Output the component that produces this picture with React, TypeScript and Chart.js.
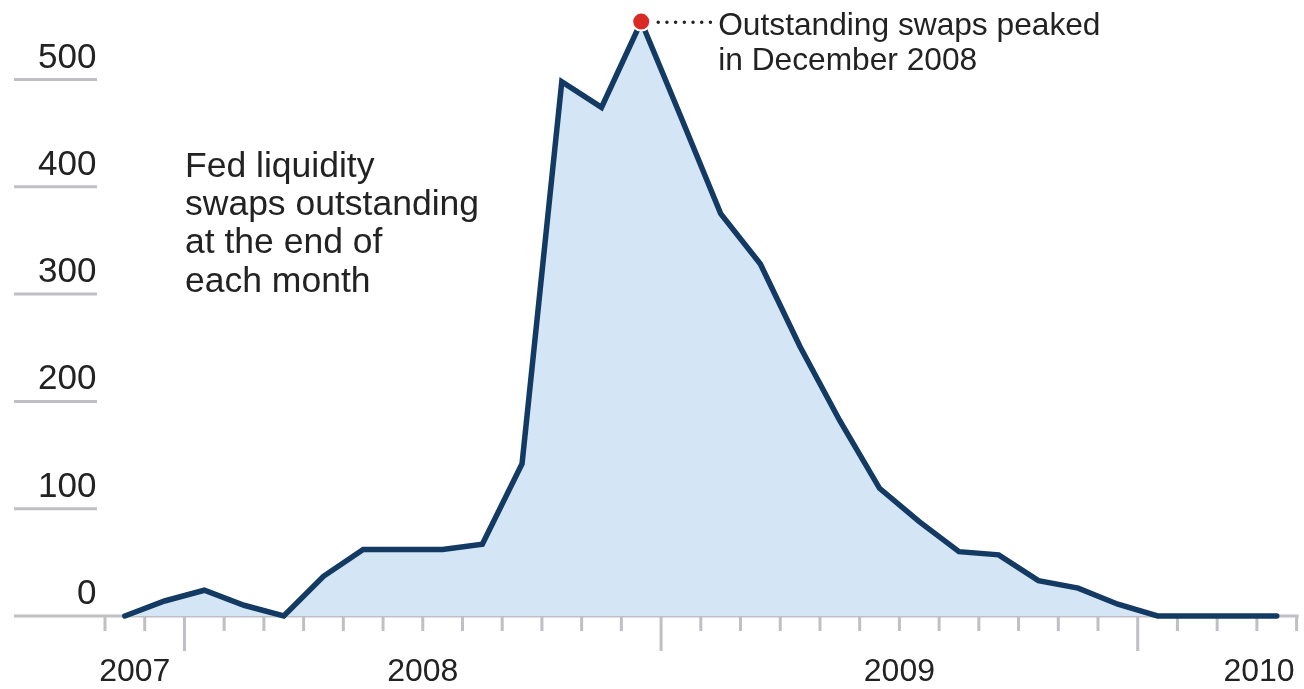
import { useEffect, useRef } from 'react';
import { Chart, registerables } from 'chart.js';

Chart.register(...registerables);

// Month-end observations, Nov 2007 .. Apr 2010 (billions of dollars)
const MONTHS = [
  '2007-11', '2007-12',
  '2008-01', '2008-02', '2008-03', '2008-04', '2008-05', '2008-06',
  '2008-07', '2008-08', '2008-09', '2008-10', '2008-11', '2008-12',
  '2009-01', '2009-02', '2009-03', '2009-04', '2009-05', '2009-06',
  '2009-07', '2009-08', '2009-09', '2009-10', '2009-11', '2009-12',
  '2010-01', '2010-02', '2010-03', '2010-04',
];
const SWAPS = [
  0, 14,
  24, 10, 0, 37, 62, 62, 62, 67, 142, 498, 474, 554,
  465, 375, 328, 251, 182, 119, 88, 60, 57, 33, 26, 11,
  0, 0, 0, 0,
];
const Y_TICKS = [0, 100, 200, 300, 400, 500];
const YEAR_LABELS = ['2007', '2008', '2009', '2010'];
const YEAR_CENTERS = [0.75, 8, 20, 30]; // in month-index units
const YEAR_STARTS = [2, 14, 26]; // January boundaries (month index)
const NOTE_LINES = ['Fed liquidity', 'swaps outstanding', 'at the end of', 'each month'];
const PEAK_LINES = ['Outstanding swaps peaked', 'in December 2008'];

const NAVY = '#133a63';
const FILL = '#d4e5f5';
const GRID = '#bfbfc4';
const RED = '#d92a26';
const TEXT = '#222222';
const FONT = '"Liberation Sans", Arial, Helvetica, sans-serif';

const PEAK_INDEX = SWAPS.indexOf(Math.max(...SWAPS));

const decor = {
  id: 'decor',
  beforeDatasetsDraw(chart: any) {
    const { ctx } = chart;
    const xs = chart.scales.x;
    const ys = chart.scales.y;
    const y0 = ys.getPixelForValue(0);
    ctx.save();
    ctx.strokeStyle = GRID;
    ctx.lineWidth = 3;
    ctx.lineCap = 'butt';
    // short y gridlines
    Y_TICKS.forEach((v) => {
      if (v === 0) return;
      const py = ys.getPixelForValue(v);
      ctx.beginPath();
      ctx.moveTo(14, py);
      ctx.lineTo(97, py);
      ctx.stroke();
    });
    // x axis line
    ctx.beginPath();
    ctx.moveTo(14, y0);
    ctx.lineTo(xs.getPixelForValue(30) + 2, y0);
    ctx.stroke();
    // month ticks
    for (let i = 0; i <= MONTHS.length; i++) {
      const px = xs.getPixelForValue(i);
      const long = YEAR_STARTS.includes(i);
      ctx.beginPath();
      ctx.moveTo(px, y0);
      ctx.lineTo(px, y0 + (long ? 35 : 15));
      ctx.stroke();
    }
    ctx.restore();
  },
  afterDatasetsDraw(chart: any) {
    const { ctx } = chart;
    const xs = chart.scales.x;
    const ys = chart.scales.y;
    ctx.save();
    ctx.fillStyle = TEXT;
    // y labels
    ctx.font = `35px ${FONT}`;
    ctx.textAlign = 'right';
    ctx.textBaseline = 'alphabetic';
    Y_TICKS.forEach((v) => {
      ctx.fillText(String(v), 96.5, ys.getPixelForValue(v) - 12);
    });
    // year labels
    ctx.font = `32px ${FONT}`;
    YEAR_LABELS.forEach((lab, i) => {
      const last = i === YEAR_LABELS.length - 1;
      ctx.textAlign = last ? 'right' : 'center';
      ctx.fillText(lab, xs.getPixelForValue(YEAR_CENTERS[i]) - (last ? 2 : 0), 681);
    });
    // left note
    ctx.textAlign = 'left';
    ctx.font = `35.5px ${FONT}`;
    NOTE_LINES.forEach((line, i) => {
      ctx.fillText(line, 185, 176.7 + i * 38.3);
    });
    // peak annotation
    const px = xs.getPixelForValue(PEAK_INDEX + 0.5);
    const py = ys.getPixelForValue(SWAPS[PEAK_INDEX]);
    ctx.strokeStyle = TEXT;
    ctx.lineWidth = 3.5;
    ctx.lineCap = 'round';
    ctx.setLineDash([0, 8.7]);
    ctx.beginPath();
    ctx.moveTo(px + 17, py + 0.8);
    ctx.lineTo(px + 70, py + 0.8);
    ctx.stroke();
    ctx.setLineDash([]);
    ctx.font = `31.7px ${FONT}`;
    PEAK_LINES.forEach((line, i) => {
      ctx.fillText(line, px + 77, 34.8 + i * 35);
    });
    ctx.restore();
  },
};

export default function App() {
  const ref = useRef<HTMLCanvasElement>(null);
  useEffect(() => {
    document.body.style.margin = '0';
    const chart = new Chart(ref.current as HTMLCanvasElement, {
      type: 'line',
      data: {
        labels: MONTHS,
        datasets: [
          {
            data: SWAPS.map((v, i) => ({ x: i + 0.5, y: v })),
            borderColor: NAVY,
            borderWidth: 5.5,
            backgroundColor: FILL,
            fill: 'origin',
            tension: 0,
            borderJoinStyle: 'miter',
            borderCapStyle: 'round',
            pointRadius: (c: any) => (c.dataIndex === PEAK_INDEX ? 9 : 0),
            pointHoverRadius: 0,
            pointBackgroundColor: RED,
            pointBorderColor: '#ffffff',
            pointBorderWidth: 2,
            clip: false,
          } as any,
        ],
      },
      options: {
        animation: false,
        responsive: false,
        events: [],
        layout: { padding: { left: 105, right: 7.4, top: 4.4, bottom: 73 } },
        scales: {
          x: { type: 'linear', min: 0, max: 30, display: false },
          y: { type: 'linear', min: 0, max: 570, display: false },
        },
        plugins: { legend: { display: false }, tooltip: { enabled: false } },
      },
      plugins: [decor],
    });
    return () => chart.destroy();
  }, []);
  return (
    <canvas
      ref={ref}
      width={1304}
      height={689}
      style={{ display: 'block', width: 1304, height: 689 }}
    />
  );
}
